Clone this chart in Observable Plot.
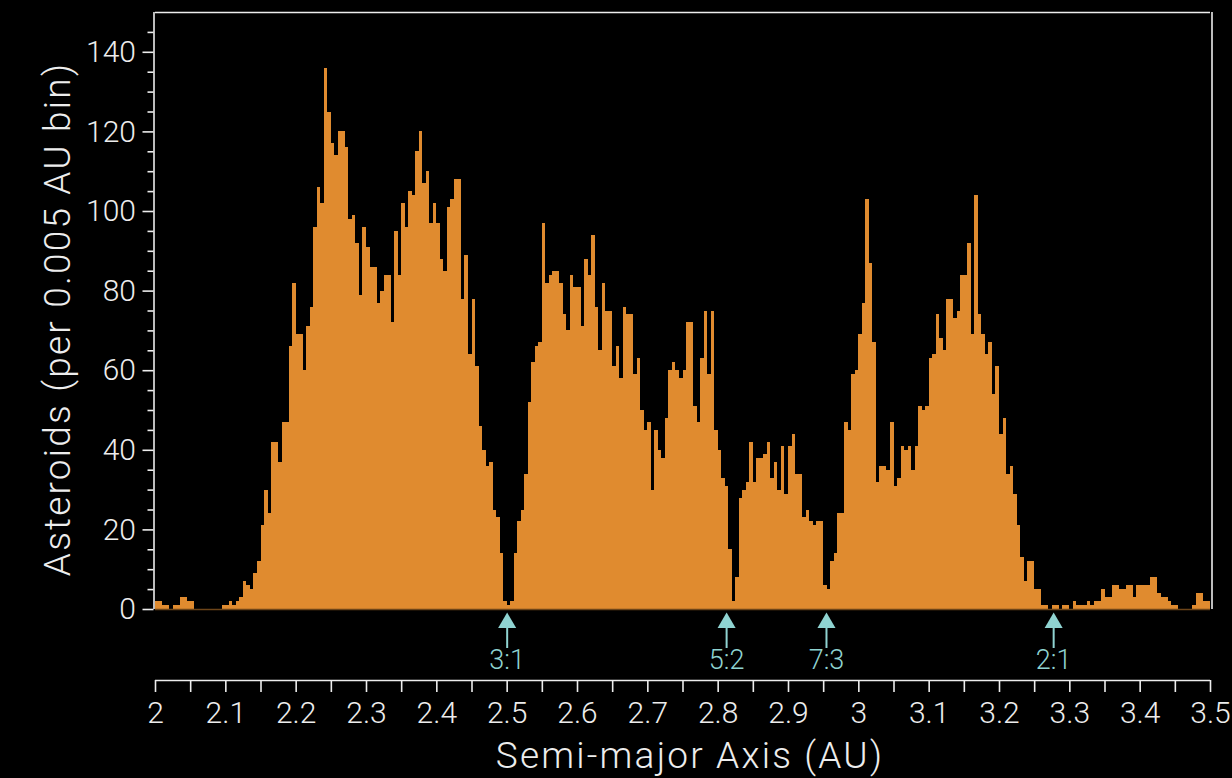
<!DOCTYPE html>
<html>
<head>
<meta charset="utf-8">
<script src="https://cdn.jsdelivr.net/npm/d3@7"></script>
<script src="https://cdn.jsdelivr.net/npm/@observablehq/plot@0.6"></script>
<style>
  html, body { margin: 0; padding: 0; background: #000; }
  #chart svg text { font-family: Roboto, "Open Sans", sans-serif; font-weight: 300; }
</style>
</head>
<body>
<div id="chart"></div>
<script>
// Main-belt asteroid counts per 0.005 AU bin of semi-major axis
const binStart = 2.0;
const binWidth = 0.005;

// bins 2.000 – 2.495 AU
const counts2_0 = [
  2, 2, 1, 1, 0, 1, 1, 3, 3, 2,
  2, 0, 0, 0, 0, 0, 0, 0, 0, 1,
  1, 2, 1, 2, 3, 7, 6, 5, 9, 12,
  21, 30, 24, 42, 42, 37, 47, 47, 66, 82,
  69, 69, 60, 71, 76, 96, 106, 102, 136, 125,
  117, 114, 120, 120, 116, 98, 99, 92, 79, 96,
  91, 86, 86, 77, 80, 84, 84, 72, 95, 84,
  102, 96, 105, 104, 115, 120, 107, 110, 97, 102,
  97, 88, 85, 101, 103, 108, 108, 78, 89, 64,
  78, 61, 46, 40, 36, 37, 25, 23, 14, 2
];

// bins 2.500 – 2.995 AU
const counts2_5 = [
  1, 2, 14, 22, 25, 34, 52, 62, 66, 67,
  97, 82, 84, 85, 85, 82, 74, 70, 84, 81,
  81, 71, 88, 84, 94, 76, 65, 82, 75, 75,
  61, 66, 58, 76, 74, 74, 59, 63, 50, 45,
  47, 30, 45, 40, 38, 48, 60, 62, 60, 58,
  60, 72, 72, 51, 47, 63, 75, 59, 75, 45,
  40, 33, 31, 15, 2, 8, 28, 30, 32, 42,
  32, 38, 38, 39, 42, 33, 37, 30, 41, 29,
  41, 44, 34, 34, 23, 25, 22, 21, 22, 22,
  6, 5, 12, 14, 24, 24, 47, 45, 59, 60
];

// bins 3.000 – 3.495 AU
const counts3_0 = [
  69, 77, 103, 87, 67, 32, 36, 36, 35, 47,
  31, 33, 41, 40, 41, 35, 41, 51, 50, 51,
  63, 64, 74, 68, 65, 78, 78, 73, 75, 84,
  84, 92, 69, 104, 74, 69, 64, 67, 54, 61,
  44, 48, 34, 36, 29, 21, 13, 7, 12, 12,
  5, 5, 1, 1, 0, 1, 1, 0, 1, 1,
  0, 2, 1, 1, 1, 2, 1, 2, 2, 5,
  3, 3, 6, 6, 5, 5, 6, 6, 3, 6,
  6, 6, 6, 8, 8, 4, 3, 3, 2, 1,
  1, 0, 0, 0, 0, 1, 4, 4, 2, 2
];

// Kirkwood gaps: mean-motion resonances with Jupiter
const resonanceNames = ["3:1", "5:2", "7:3", "2:1"];
const resonanceAU = [2.50, 2.812, 2.954, 3.277];

// Axis ticks
const xMajorTicks = [2.0, 2.1, 2.2, 2.3, 2.4, 2.5, 2.6, 2.7, 2.8, 2.9, 3.0, 3.1, 3.2, 3.3, 3.4, 3.5];
const xMinorTicks = [2.05, 2.15, 2.25, 2.35, 2.45, 2.55, 2.65, 2.75, 2.85, 2.95, 3.05, 3.15, 3.25, 3.35, 3.45];
const yMajorTicks = [0, 20, 40, 60, 80, 100, 120, 140];
const yMinorTicks = [5, 10, 15, 25, 30, 35, 45, 50, 55, 65, 70, 75, 85, 90, 95, 105, 110, 115, 125, 130, 135, 145];

const xTitle = "Semi-major Axis (AU)";
const yTitle = "Asteroids (per 0.005 AU bin)";

const counts = [...counts2_0, ...counts2_5, ...counts3_0];
const bins = counts.map((count, i) => ({
  x1: binStart + i * binWidth,
  x2: binStart + (i + 1) * binWidth,
  count
}));
const resonances = resonanceNames.map((name, i) => ({name, a: resonanceAU[i]}));

const ink = "#ededed";
const teal = "#8fd3d1";
const orange = "#e08b2f";
const axisDrop = 71; // gap between the histogram baseline and the x axis

const chart = Plot.plot({
  width: 1232,
  height: 778,
  marginLeft: 155,
  marginRight: 22,
  marginTop: 12,
  marginBottom: 169,
  style: {background: "#000", color: ink, fontSize: "30px", overflow: "visible"},
  x: {domain: [2.0, 3.5]},
  y: {domain: [0, 150]},
  marks: [
    // histogram
    Plot.rectY(bins, {x1: "x1", x2: "x2", y: "count", fill: orange, shapeRendering: "crispEdges"}),
    Plot.ruleY([0], {stroke: "#6d4519", strokeWidth: 1.5}),

    // frame: left, top, right
    Plot.ruleX([2.0], {stroke: ink, strokeWidth: 1.6, dx: -1.5}),
    Plot.ruleX([3.5], {stroke: ink, strokeWidth: 1.6, dx: 1.5}),
    Plot.ruleY([150], {stroke: ink, strokeWidth: 1.6}),

    // y axis
    Plot.axisY(yMajorTicks, {tickSize: 11, tickPadding: 7, dx: -1.5, stroke: ink, strokeWidth: 1.6, fill: ink, fontSize: 30, label: null}),
    Plot.axisY(yMinorTicks, {tickSize: 6, dx: -1.5, stroke: ink, strokeWidth: 1.6, tickFormat: () => "", label: null}),

    // x axis, set below the histogram
    Plot.ruleY([0], {stroke: ink, strokeWidth: 1.6, dy: axisDrop}),
    Plot.axisX(xMinorTicks, {tickSize: 12, dy: axisDrop, stroke: ink, strokeWidth: 1.6, tickFormat: () => "", label: null}),
    Plot.axisX(xMajorTicks, {tickSize: 12, tickPadding: 9, dy: axisDrop, stroke: ink, strokeWidth: 1.6, fill: ink, fontSize: 30,
      tickFormat: d => String(+d.toFixed(2)), label: null}),

    // resonance markers
    Plot.ruleX(resonances, {x: "a", y1: 0, y2: 0, insetTop: 18, insetBottom: -39, stroke: teal, strokeWidth: 2}),
    Plot.dot(resonances, {x: "a", y: 0, symbol: "triangle", r: 6.7, fill: teal, stroke: null, dy: 13.4}),
    Plot.text(resonances, {x: "a", y: 0, text: "name", fill: teal, fontSize: 27, dy: 51}),

    // axis titles
    Plot.text([xTitle], {frameAnchor: "bottom", text: d => d, textAnchor: "middle", lineAnchor: "middle",
      fill: ink, fontSize: 37, dx: 7, dy: 147}),
    Plot.text([yTitle], {frameAnchor: "left", text: d => d, textAnchor: "middle", lineAnchor: "middle", rotate: -90,
      fill: ink, fontSize: 37, dx: -97, dy: 8})
  ]
});

// wider tracking on the axis titles
d3.select(chart).selectAll("text")
  .filter(function() { return this.textContent === xTitle || this.textContent === yTitle; })
  .style("letter-spacing", "2.2px");

document.getElementById("chart").appendChild(chart);
</script>
</body>
</html>
